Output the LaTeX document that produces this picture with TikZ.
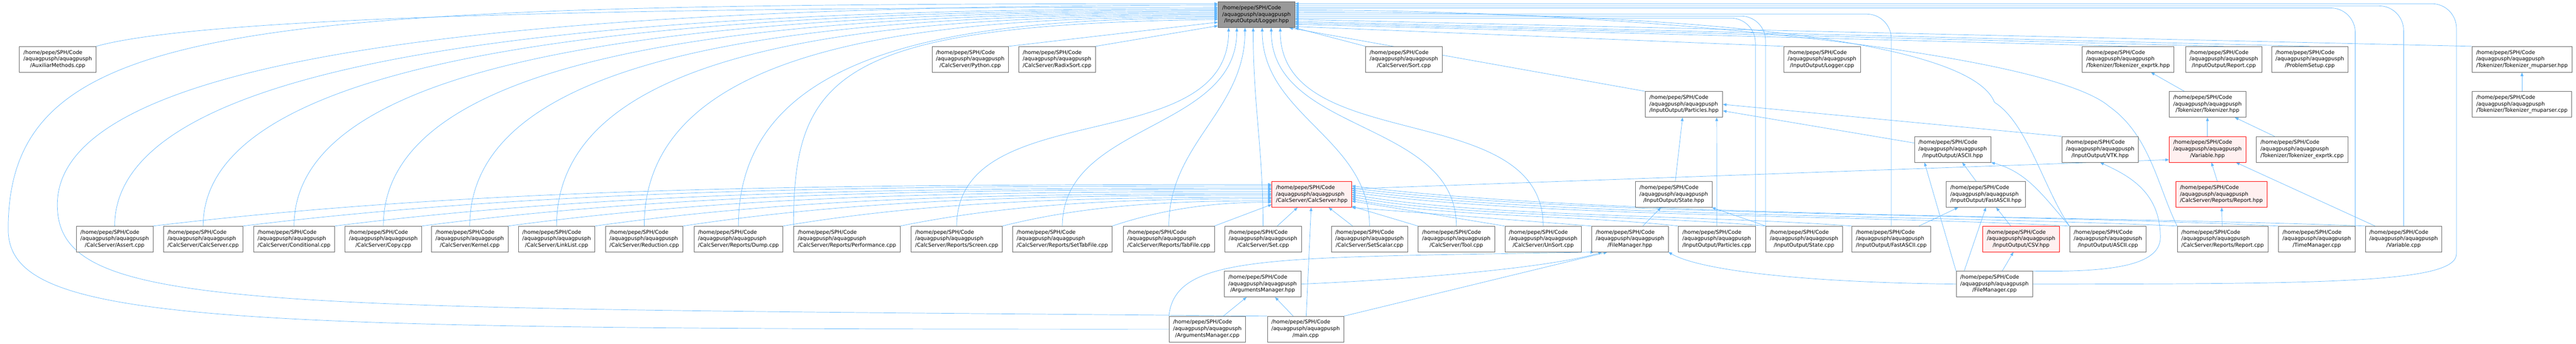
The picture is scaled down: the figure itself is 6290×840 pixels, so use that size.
\documentclass[tikz,border=0pt]{standalone}
\usepackage{fontspec}
\setmainfont{DejaVu Sans}
\usetikzlibrary{arrows.meta,backgrounds}
\definecolor{edgeblue}{HTML}{63B8FF}
\definecolor{boxgrey}{HTML}{666666}
\definecolor{rootgrey}{HTML}{999999}
\definecolor{cutfill}{HTML}{FFF0F0}
\newcommand{\fpath}[1]{\begin{tabular}{@{}l@{}}/home/pepe/SPH/Code\\/aquagpusph/aquagpusph\\\multicolumn{1}{@{}c@{}}{#1}\end{tabular}}
\begin{document}
\begin{tikzpicture}[x=1pt,y=-1pt,file/.style={rectangle, draw=boxgrey, fill=white, line width=0.8pt, inner xsep=10pt, inner ysep=7.5pt, font=\fontsize{12.8}{16}\selectfont},file1/.style={file, fill=rootgrey},file2/.style={file, draw=red, fill=cutfill},inc/.style={draw=edgeblue, line width=0.9pt, -{Triangle[length=9pt,width=7pt]}}]
\useasboundingbox (0,0) rectangle (6290,840);

  \node[file1] (log) at (3068,36) {\fpath{/InputOutput/Logger.hpp}};

  \node[file] (auxcpp) at (141,145) {\fpath{/AuxiliarMethods.cpp}};
  \node[file] (pythoncpp) at (2369,145) {\fpath{/CalcServer/Python.cpp}};
  \node[file] (radixcpp) at (2581,145) {\fpath{/CalcServer/RadixSort.cpp}};
  \node[file] (sortcpp) at (3428,145) {\fpath{/CalcServer/Sort.cpp}};
  \node[file] (loggercpp) at (4449,145) {\fpath{/InputOutput/Logger.cpp}};
  \node[file] (tkexprtkh) at (5196,145) {\fpath{/Tokenizer/Tokenizer\_exprtk.hpp}};
  \node[file] (reportcpp) at (5430,145) {\fpath{/InputOutput/Report.cpp}};
  \node[file] (setupcpp) at (5640,145) {\fpath{/ProblemSetup.cpp}};
  \node[file] (tkmuph) at (6158,145) {\fpath{/Tokenizer/Tokenizer\_muparser.hpp}};

  \node[file] (particlesh) at (4112,255) {\fpath{/InputOutput/Particles.hpp}};
  \node[file] (tokenizerh) at (5390,255) {\fpath{/Tokenizer/Tokenizer.hpp}};
  \node[file] (tkmupcpp) at (6158,255) {\fpath{/Tokenizer/Tokenizer\_muparser.cpp}};

  \node[file] (asciih) at (4768,365) {\fpath{/InputOutput/ASCII.hpp}};
  \node[file] (vtkh) at (5128,365) {\fpath{/InputOutput/VTK.hpp}};
  \node[file2] (variableh) at (5390,365) {\fpath{/Variable.hpp}};
  \node[file] (tkexprtkcpp) at (5621,365) {\fpath{/Tokenizer/Tokenizer\_exprtk.cpp}};

  \node[file2] (calcserverh) at (3203,475) {\fpath{/CalcServer/CalcServer.hpp}};
  \node[file] (stateh) at (4087,475) {\fpath{/InputOutput/State.hpp}};
  \node[file] (fastasciih) at (4849,475) {\fpath{/InputOutput/FastASCII.hpp}};
  \node[file2] (reporth) at (5424,475) {\fpath{/CalcServer/Reports/Report.hpp}};

  \node[file] (assertcpp) at (280,584) {\fpath{/CalcServer/Assert.cpp}};
  \node[file] (calcservercpp) at (496,584) {\fpath{/CalcServer/CalcServer.cpp}};
  \node[file] (conditionalcpp) at (718,584) {\fpath{/CalcServer/Conditional.cpp}};
  \node[file] (copycpp) at (936,584) {\fpath{/CalcServer/Copy.cpp}};
  \node[file] (kernelcpp) at (1147,584) {\fpath{/CalcServer/Kernel.cpp}};
  \node[file] (linklistcpp) at (1359,584) {\fpath{/CalcServer/LinkList.cpp}};
  \node[file] (reductioncpp) at (1573,584) {\fpath{/CalcServer/Reduction.cpp}};
  \node[file] (dumpcpp) at (1803,584) {\fpath{/CalcServer/Reports/Dump.cpp}};
  \node[file] (performancecpp) at (2068,584) {\fpath{/CalcServer/Reports/Performance.cpp}};
  \node[file] (screencpp) at (2336,584) {\fpath{/CalcServer/Reports/Screen.cpp}};
  \node[file] (settabfilecpp) at (2594,584) {\fpath{/CalcServer/Reports/SetTabFile.cpp}};
  \node[file] (tabfilecpp) at (2854,584) {\fpath{/CalcServer/Reports/TabFile.cpp}};
  \node[file] (setcpp) at (3084,584) {\fpath{/CalcServer/Set.cpp}};
  \node[file] (setscalarcpp) at (3344,584) {\fpath{/CalcServer/SetScalar.cpp}};
  \node[file] (toolcpp) at (3556,584) {\fpath{/CalcServer/Tool.cpp}};
  \node[file] (unsortcpp) at (3768,584) {\fpath{/CalcServer/UnSort.cpp}};
  \node[file] (filemanagerh) at (3980,584) {\fpath{/FileManager.hpp}};
  \node[file] (particlescpp) at (4192,584) {\fpath{/InputOutput/Particles.cpp}};
  \node[file] (statecpp) at (4405,584) {\fpath{/InputOutput/State.cpp}};
  \node[file] (fastasciicpp) at (4618,584) {\fpath{/InputOutput/FastASCII.cpp}};
  \node[file2] (csvh) at (4935,584) {\fpath{/InputOutput/CSV.hpp}};
  \node[file] (asciicpp) at (5147,584) {\fpath{/InputOutput/ASCII.cpp}};
  \node[file] (rreportcpp) at (5427,584) {\fpath{/CalcServer/Reports/Report.cpp}};
  \node[file] (timemanagercpp) at (5657,584) {\fpath{/TimeManager.cpp}};
  \node[file] (variablecpp) at (5869,584) {\fpath{/Variable.cpp}};

  \node[file] (argsh) at (3083,694) {\fpath{/ArgumentsManager.hpp}};
  \node[file] (filemanagercpp) at (4870,694) {\fpath{/FileManager.cpp}};

  \node[file] (argscpp) at (2948,804) {\fpath{/ArgumentsManager.cpp}};
  \node[file] (maincpp) at (3188,804) {\fpath{/main.cpp}};

\begin{pgfonlayer}{background}
    \draw[inc] (auxcpp.north east) .. controls +(250,-70) and +(-1500,0) .. (log.169);
    \draw[inc] (pythoncpp.north east) -- (log.191);
    \draw[inc] (radixcpp.north east) -- (log.196);
    \draw[inc] (sortcpp.north west) -- (log.south east);
    \draw[inc] (loggercpp.north west) -- (log.-17);
    \draw[inc] (tkexprtkh.north) -- (log.-14);
    \draw[inc] (reportcpp.north) -- (log.-12);
    \draw[inc] (setupcpp.north) -- (log.-10);
    \draw[inc] (tkmuph.north west) -- (log.-7);

    \draw[inc] (particlesh.north west) -- ([xshift=-14pt]log.south east);
    \draw[inc] (tokenizerh) -- (tkexprtkh);
    \draw[inc] (tkmupcpp) -- (tkmuph);
    \draw[inc] (asciih) -- (particlesh);
    \draw[inc] (vtkh.north west) -- (particlesh.east);
    \draw[inc] (variableh) -- (tokenizerh);
    \draw[inc] (tkexprtkcpp) -- (tokenizerh);
    \draw[inc] (calcserverh.8) -- (variableh.195);
    \draw[inc] (stateh) -- (particlesh);
    \draw[inc] (fastasciih) -- (asciih);
    \draw[inc] (reporth) -- (variableh);

    \draw[inc] (assertcpp.north) .. controls +(0,-450) and +(-1347,0) .. (log.171);
    \draw[inc] (calcservercpp.north) .. controls +(0,-450) and +(-1239,0) .. (log.173);
    \draw[inc] (conditionalcpp.north) .. controls +(0,-450) and +(-1128,0) .. (log.175);
    \draw[inc] (copycpp.north) .. controls +(0,-450) and +(-1019,0) .. (log.177);
    \draw[inc] (kernelcpp.north) .. controls +(0,-450) and +(-914,0) .. (log.179);
    \draw[inc] (linklistcpp.north) .. controls +(0,-450) and +(-808,0) .. (log.181);
    \draw[inc] (reductioncpp.north) .. controls +(0,-450) and +(-700,0) .. (log.183);
    \draw[inc] (dumpcpp.north) .. controls +(0,-450) and +(-585,0) .. (log.185);
    \draw[inc] (performancecpp.north west) .. controls (1937,180) and (2050,60) .. (log.187);
    \draw[inc] (screencpp) to[out=90,in=-90] ([xshift=-68pt]log.south);
    \draw[inc] (settabfilecpp) to[out=90,in=-90] ([xshift=-48pt]log.south);
    \draw[inc] (tabfilecpp) to[out=90,in=-90] ([xshift=-28pt]log.south);
    \draw[inc] (setcpp) to[out=90,in=-90] ([xshift=-8pt]log.south);
    \draw[inc] (setscalarcpp) to[out=90,in=-90] ([xshift=14pt]log.south);
    \draw[inc] (toolcpp) to[out=90,in=-90] ([xshift=36pt]log.south);
    \draw[inc] (unsortcpp) to[out=90,in=-90] ([xshift=58pt]log.south);
    \draw[inc, rounded corners=60pt] (particlescpp.north east) |- (log.-5);
    \draw[inc, rounded corners=60pt] (statecpp.north west) |- (log.-2);
    \draw[inc, rounded corners=60pt] (fastasciicpp.north) |- (log.1);
    \draw[inc] (asciicpp.north west) .. controls (4990,460) and (4950,300) .. (4870,250) .. controls (4820,120) and (4300,29) .. (log.4);
    \draw[inc] (rreportcpp.north west) .. controls (5270,460) and (5250,330) .. (5150,260) .. controls (5000,130) and (4000,24) .. (log.7);
    \draw[inc, rounded corners=60pt] (timemanagercpp.north east) |- (log.10);
    \draw[inc, rounded corners=60pt] (variablecpp.north) |- (log.13);

    \draw[inc] (assertcpp.north east) .. controls +(800,-95) and +(-1100,0) .. (calcserverh.166);
    \draw[inc] (calcservercpp.north east) .. controls +(740,-90) and +(-1000,0) .. (calcserverh.168);
    \draw[inc] (conditionalcpp.north east) .. controls +(680,-85) and +(-900,0) .. (calcserverh.171);
    \draw[inc] (copycpp.north east) .. controls +(620,-80) and +(-830,0) .. (calcserverh.173);
    \draw[inc] (kernelcpp.north east) .. controls +(560,-75) and +(-750,0) .. (calcserverh.176);
    \draw[inc] (linklistcpp.north east) .. controls +(500,-70) and +(-660,0) .. (calcserverh.179);
    \draw[inc] (reductioncpp.north east) .. controls +(430,-65) and +(-570,0) .. (calcserverh.181);
    \draw[inc] (dumpcpp.north east) .. controls +(360,-60) and +(-480,0) .. (calcserverh.184);
    \draw[inc] (performancecpp.north east) .. controls +(270,-55) and +(-360,0) .. (calcserverh.186);
    \draw[inc] (screencpp.north east) .. controls +(200,-50) and +(-260,0) .. (calcserverh.189);
    \draw[inc] (settabfilecpp.north east) .. controls +(120,-40) and +(-150,0) .. (calcserverh.191);
    \draw[inc] (tabfilecpp.north east) -- (calcserverh.194);
    \draw[inc] (setcpp) -- (calcserverh);
    \draw[inc] (setscalarcpp) -- (calcserverh);
    \draw[inc] (toolcpp.north west) -- (calcserverh);
    \draw[inc] (unsortcpp.north west) -- (calcserverh);
    \draw[inc] (filemanagerh.north west) -- (calcserverh.south east);
    \draw[inc] (particlescpp.north west) .. controls (3858,525) and (3501,530) .. (calcserverh.-6);
    \draw[inc] (statecpp.north west) .. controls (4009,525) and (3554,530) .. (calcserverh.-3);
    \draw[inc] (fastasciicpp.north west) .. controls (4156,525) and (3607,530) .. (calcserverh.0);
    \draw[inc] (asciicpp.north west) .. controls (4528,525) and (3740,530) .. (calcserverh.3);
    \draw[inc] (rreportcpp.north west) .. controls (4711,525) and (3805,530) .. (calcserverh.6);
    \draw[inc] (timemanagercpp.north west) .. controls (4885,520) and (3867,530) .. (calcserverh.9);
    \draw[inc] (variablecpp.north west) .. controls (5032,525) and (3920,530) .. (calcserverh.12);

    \draw[inc] (particlescpp.north) -- ([xshift=-15pt]particlesh.south east);
    \draw[inc] (statecpp) -- (stateh);
    \draw[inc] (fastasciicpp) -- (fastasciih);
    \draw[inc] (csvh) -- (fastasciih);
    \draw[inc] (asciicpp.north west) .. controls (4990,480) and (4950,420) .. (asciih.south east);
    \draw[inc] (rreportcpp) -- (reporth);
    \draw[inc] (variablecpp) -- (variableh);
    \draw[inc] (filemanagerh) -- (stateh);

    \draw[inc] (filemanagercpp.west) .. controls (4400,690) and (4150,660) .. (filemanagerh.south east);
    \draw[inc] (filemanagercpp) -- (csvh);
    \draw[inc] (filemanagercpp.north west) -- ([xshift=25pt]asciih.south west);
    \draw[inc] ([xshift=20pt]filemanagercpp.north west) -- (fastasciih.south);
    \draw[inc] (filemanagercpp.north east) .. controls (5150,665) and (5275,650) .. (5275,580) .. controls (5275,470) and (5200,430) .. (vtkh.south);
    \draw[inc, rounded corners=60pt] (filemanagercpp.east) .. controls (5700,694) and (5998,690) .. (5998,560) |- (log.16);

    \draw[inc] (argscpp) -- (argsh);
    \draw[inc] (maincpp) -- (argsh);
    \draw[inc] (argscpp.north west) .. controls (2870,620) and (3100,630) .. (filemanagerh.200);
    \draw[inc] (argsh.east) .. controls (3500,680) and (3800,650) .. (filemanagerh.205);
    \draw[inc] (maincpp.north east) -- (filemanagerh.210);
    \draw[inc] (maincpp) -- (calcserverh);
    \draw[inc] (argscpp.west) .. controls (500,805) and (20,790) .. (20,560) .. controls (20,40) and (600,9) .. (log.164);
    \draw[inc] (maincpp.north west) .. controls (600,750) and (140,765) .. (140,500) .. controls (140,110) and (1400,14) .. (log.166);
\end{pgfonlayer}

\end{tikzpicture}
\end{document}
